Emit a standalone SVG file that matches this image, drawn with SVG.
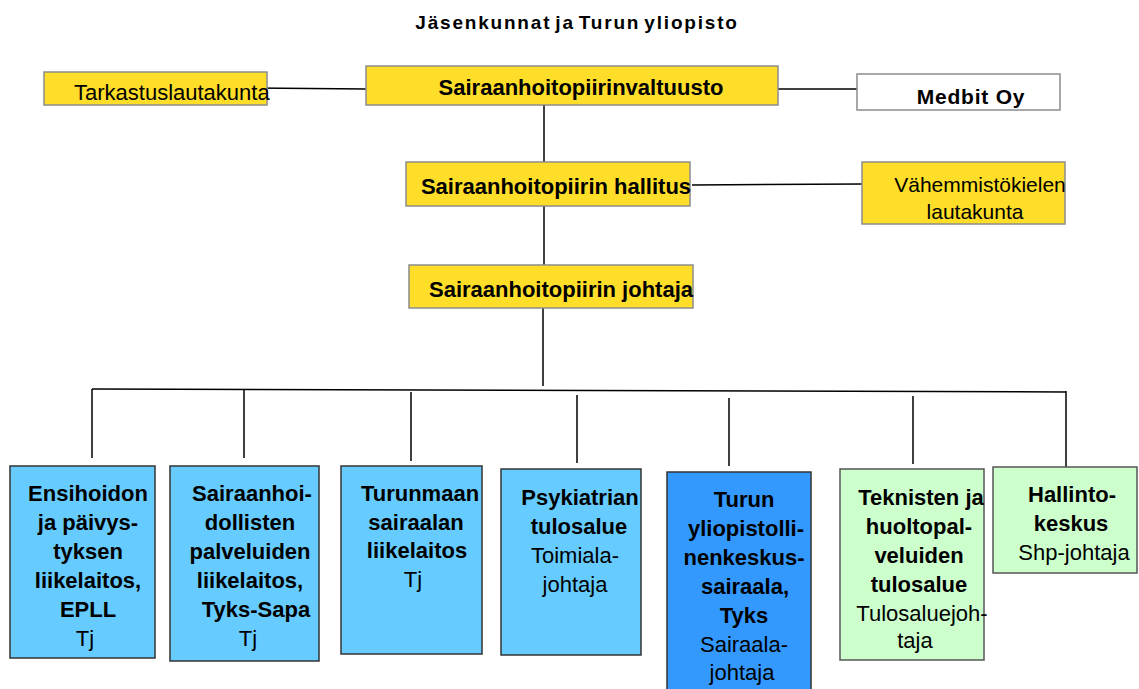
<svg xmlns="http://www.w3.org/2000/svg" width="1139" height="689" viewBox="0 0 1139 689">
<style>
text{font-family:"Liberation Sans",Arial,sans-serif;fill:#000}
.b{font-weight:bold;font-size:22px;text-anchor:middle}
.r{font-size:22px;text-anchor:middle}
.y{fill:#FFDE29;stroke:#8c8c8c;stroke-width:1.5}
.w{fill:#fff;stroke:#8c8c8c;stroke-width:1.5}
.lb{fill:#66CCFF;stroke:#333;stroke-width:1.5}
.db{fill:#3399FF;stroke:#333;stroke-width:1.5}
.g{fill:#CCFFCC;stroke:#555;stroke-width:1.5}
.c line{stroke:#000;stroke-width:1.5}
</style>
<rect width="1139" height="689" fill="#fff"/>
<text x="577" y="29" style="font-weight:bold;font-size:19px;text-anchor:middle;letter-spacing:1.8px;word-spacing:-3px">Jäsenkunnat ja Turun yliopisto</text>
<g class="c" id="connectors">
<line x1="254" y1="88" x2="366" y2="89"/>
<line x1="778" y1="89" x2="857" y2="89"/>
<line x1="544" y1="105" x2="544" y2="162"/>
<line x1="692" y1="185" x2="862" y2="184"/>
<line x1="544" y1="206" x2="544" y2="265"/>
<line x1="543" y1="308" x2="543" y2="386"/>
<line x1="92" y1="389" x2="1066" y2="392"/>
<line x1="92" y1="389" x2="92" y2="458"/>
<line x1="244" y1="389" x2="244" y2="458"/>
<line x1="411" y1="392" x2="411" y2="461"/>
<line x1="577" y1="395" x2="577" y2="463"/>
<line x1="729" y1="398" x2="729" y2="466"/>
<line x1="913" y1="396" x2="913" y2="464"/>
<line x1="1066" y1="391" x2="1066" y2="467"/>
</g>
<g id="tarkastuslautakunta">
<rect class="y" x="44" y="72" width="223" height="33"/>
<text x="74" y="100" style="font-size:22px">Tarkastuslautakunta</text>
</g>
<g id="valtuusto">
<rect class="y" x="366" y="66" width="412" height="39"/>
<text class="b" x="581" y="95">Sairaanhoitopiirinvaltuusto</text>
</g>
<g id="medbit">
<rect class="w" x="857" y="74" width="203" height="36"/>
<text x="971" y="104" style="font-weight:bold;font-size:21px;text-anchor:middle;letter-spacing:0.8px">Medbit Oy</text>
</g>
<g id="hallitus">
<rect class="y" x="406" y="162" width="284" height="44"/>
<text class="b" x="556" y="194">Sairaanhoitopiirin hallitus</text>
</g>
<g id="vahemmisto">
<rect class="y" x="862" y="162" width="203" height="62"/>
<text class="r" x="980" y="192" style="font-size:21px">Vähemmistökielen</text>
<text class="r" x="975" y="219" style="font-size:21px">lautakunta</text>
</g>
<g id="johtaja">
<rect class="y" x="409" y="265" width="284" height="43"/>
<text class="b" x="561" y="297">Sairaanhoitopiirin johtaja</text>
</g>
<g id="epll">
<rect class="lb" x="10" y="466" width="145" height="192"/>
<text class="b" x="88" y="501">Ensihoidon</text>
<text class="b" x="88" y="530">ja päivys-</text>
<text class="b" x="88" y="559">tyksen</text>
<text class="b" x="88" y="588">liikelaitos,</text>
<text class="b" x="88" y="617">EPLL</text>
<text class="r" x="85" y="646">Tj</text>
</g>
<g id="sapa">
<rect class="lb" x="170" y="466" width="149" height="195"/>
<text class="b" x="252" y="501">Sairaanhoi-</text>
<text class="b" x="250" y="530">dollisten</text>
<text class="b" x="250" y="559">palveluiden</text>
<text class="b" x="250" y="588">liikelaitos,</text>
<text class="b" x="256" y="617">Tyks-Sapa</text>
<text class="r" x="248" y="646">Tj</text>
</g>
<g id="turunmaa">
<rect class="lb" x="341" y="466" width="141" height="188"/>
<text class="b" x="420" y="501">Turunmaan</text>
<text class="b" x="416" y="530">sairaalan</text>
<text class="b" x="417" y="558">liikelaitos</text>
<text class="r" x="413" y="587">Tj</text>
</g>
<g id="psykiatria">
<rect class="lb" x="501" y="469" width="140" height="186"/>
<text class="b" x="580" y="505">Psykiatrian</text>
<text class="b" x="579" y="534">tulosalue</text>
<text class="r" x="575" y="563">Toimiala-</text>
<text class="r" x="575" y="592">johtaja</text>
</g>
<g id="tyks">
<rect class="db" x="667" y="472" width="144" height="230"/>
<text class="b" x="744" y="507">Turun</text>
<text class="b" x="746" y="536">yliopistolli-</text>
<text class="b" x="744" y="565">nenkeskus-</text>
<text class="b" x="745" y="594">sairaala,</text>
<text class="b" x="744" y="623">Tyks</text>
<text class="r" x="744" y="652">Sairaala-</text>
<text class="r" x="742" y="680">johtaja</text>
</g>
<g id="tekniset">
<rect class="g" x="840" y="469" width="144" height="191"/>
<text class="b" x="921" y="505">Teknisten ja</text>
<text class="b" x="919" y="534">huoltopal-</text>
<text class="b" x="919" y="563">veluiden</text>
<text class="b" x="919" y="592">tulosalue</text>
<text class="r" x="922" y="621">Tulosaluejoh-</text>
<text class="r" x="915" y="648">taja</text>
</g>
<g id="hallintokeskus">
<rect class="g" x="993" y="467" width="144" height="106"/>
<text class="b" x="1072" y="502">Hallinto-</text>
<text class="b" x="1071" y="531">keskus</text>
<text class="r" x="1074" y="560">Shp-johtaja</text>
</g>
</svg>
